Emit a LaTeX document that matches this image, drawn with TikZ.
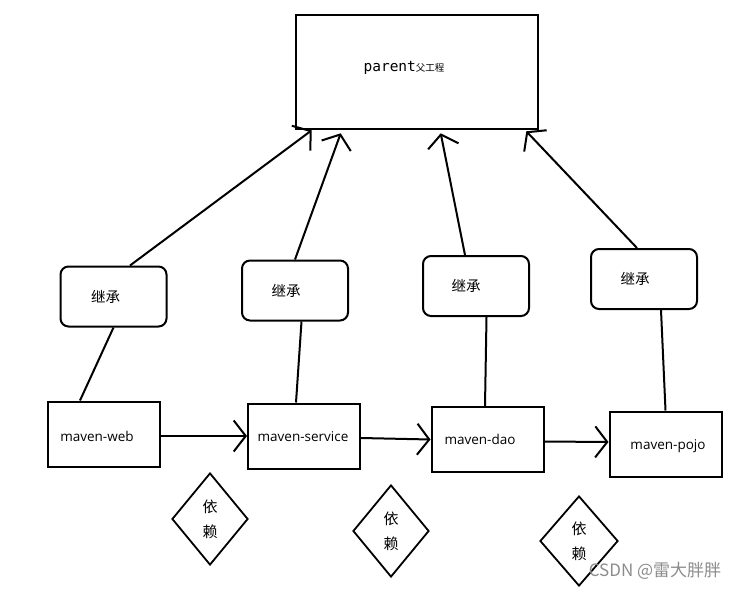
\documentclass[tikz,border=0pt]{standalone}
\usepackage{fontspec}
\setmainfont{Open Sans}
\newfontfamily\cjk{Noto Sans CJK SC}
\newfontfamily\codefont{DejaVu Sans Mono}
\usepackage{tikz}
\usetikzlibrary{calc}
\usetikzlibrary{arrows.meta,shapes.geometric}
\usepackage{xcolor}
\definecolor{markgray}{rgb}{0.55,0.55,0.55}
\tikzset{
  parentbox/.style={draw,line width=2.6pt,minimum width=242pt,minimum height=114pt,inner sep=0pt},
  inheritbox/.style={draw,line width=2pt,rounded corners=8pt,minimum width=106pt,minimum height=60pt,
    inner sep=0pt,label={[font=\cjk\fontsize{14.5}{17}\selectfont,xshift=#1]center:继承}},
  modbox/.style={draw,line width=2pt,minimum width=112pt,minimum height=65pt,inner sep=0pt},
  modtext/.style={font=\fontsize{13.5}{16}\selectfont},
  relybox/.style={draw,diamond,line width=1.8pt,minimum width=76pt,minimum height=92pt,inner sep=0pt,
    align=center,font=\cjk\fontsize{15}{25}\selectfont},
  link/.style={line width=2pt},
  barb/.style={line width=2pt,-{Straight Barb[length=12pt,width=31pt,line width=2pt]}}
}
\begin{document}
\begin{tikzpicture}[x=1pt,y=-1pt]
  \useasboundingbox (0,0) rectangle (738,589);
  \node[parentbox] (parent) at (417,72) {};
  \node (ptext) at (404,68) {{\codefont\fontsize{14.5}{17}\selectfont parent}{\cjk\fontsize{9.5}{12}\selectfont 父工程}};

  \node[inheritbox=-8pt] (inh1) at (113.5,296.5) {};
  \node[inheritbox=-9pt] (inh2) at (295,290.5) {};
  \node[inheritbox=-10pt] (inh3) at (476,286) {};
  \node[inheritbox=-9pt] (inh4) at (644,279) {};

  \node[modbox] (web) at (104,434) {};
  \node[modbox] (service) at (304,436) {};
  \node[modbox] (dao) at (487.5,439.5) {};
  \node[modbox] (pojo) at (665.5,444) {};
  \node[modtext] (webtext) at (97,436) {maven-web};
  \node[modtext] (servicetext) at (303,437) {maven-service};
  \node[modtext] (daotext) at (480,439) {maven-dao};
  \node[modtext] (pojotext) at (668,446) {maven-pojo};

  \node[relybox] (rely1) at (210,519) {依\\赖};
  \node[relybox] (rely2) at (391,531) {依\\赖};
  \node[relybox,minimum width=78pt,minimum height=90pt] (rely3) at (579,541) {依\\赖};

  \draw[link] ([xshift=-24pt]web.north) -- (inh1.south);
  \draw[link] ([xshift=-8pt]service.north) -- ([xshift=6.5pt]inh2.south);
  \draw[link] ([xshift=-2.5pt]dao.north) -- ([xshift=10.5pt]inh3.south);
  \draw[link] (pojo.north) -- ([xshift=17pt]inh4.south);

  \draw[barb] ([xshift=16.5pt]inh1.north) -- ([xshift=17pt]parent.south west);
  \draw[barb] (inh2.north) -- ([xshift=46pt,yshift=-3pt]parent.south west);
  \draw[barb] ([xshift=-11pt]inh3.north) -- ([xshift=146pt,yshift=-3pt]parent.south west);
  \draw[barb] ([xshift=-7pt]inh4.north) -- ([xshift=-13pt,yshift=-1pt]parent.south east);

  \draw[barb] ([yshift=-2pt]web.east) -- (service.west);
  \draw[barb] ([yshift=-2pt]service.east) -- (dao.west);
  \draw[barb] ([yshift=-2pt]dao.east) -- ([yshift=2pt]pojo.west);

  \node[text=markgray,font=\cjk\fontsize{17}{19}\selectfont] (mark) at (655,571) {CSDN @雷大胖胖};
\end{tikzpicture}
\end{document}
